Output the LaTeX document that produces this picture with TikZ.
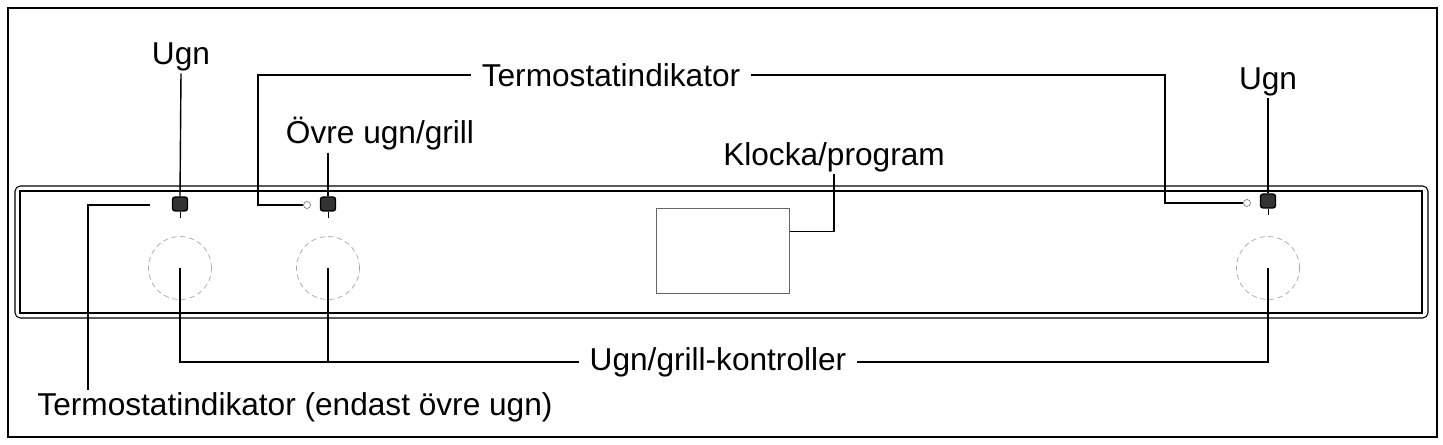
\documentclass[tikz,border=0pt]{standalone}
\usepackage{fontspec}
\setmainfont{Liberation Sans}
\usetikzlibrary{positioning}
\tikzset{
    label/.style={font=\fontsize{18}{20}\selectfont, inner xsep=6pt, inner ysep=1pt},
    knob/.style={circle, draw=black!35, densely dashed, minimum size=1.26cm, inner sep=0pt},
    lamp/.style={rectangle, rounded corners=1.5pt, draw, thick, minimum width=0.3cm, minimum height=0.28cm, inner sep=0pt},
    dot/.style={circle, draw=black!50, minimum size=0.14cm, inner sep=0pt},
    line/.style={thick}
}
\begin{document}
\begin{tikzpicture}[x=0.02cm, y=-0.02cm]
    \useasboundingbox (0,0) rectangle (1443,445);
    \draw[thick] (8,8) rectangle (1437,437);

    % panel
    \draw[semithick, rounded corners=3pt] (15,186) rectangle (1428,318);
    \draw[semithick] (20,191) rectangle (1422,313);

    % knobs
    \node[knob] (knob_a) at (180,268) {};
    \node[knob] (knob_b) at (328,268) {};
    \node[knob] (knob_c) at (1268,268) {};

    % lamps
    \node[lamp, fill=black!80] (lamp_a) at (180,204) {};
    \node[lamp, fill=black!80] (lamp_b) at (328,204) {};
    \node[lamp, fill=black!80] (lamp_c) at (1268,201) {};
    \node[dot] (dot_b) at (307,205) {};
    \node[dot] (dot_c) at (1247,203) {};
    \draw (lamp_a.south) -- ++(0,6);
    \draw (lamp_b.south) -- ++(0,6);
    \draw (lamp_c.south) -- ++(0,6);

    % display
    \node[draw=black!60, minimum width=2.66cm, minimum height=1.7cm] (display) at (723,251) {};

    % labels
    \node[label] (ugn_left) at (181,57) {Ugn};
    \node[label] (upper) at (380,134) {Övre ugn/grill};
    \node[label] (thermo) at (611,75) {Termostatindikator};
    \node[label] (ugn_right) at (1268,82) {Ugn};
    \node[label] (clock) at (834,157) {Klocka/program};
    \node[label] (controls) at (718,362) {Ugn/grill-kontroller};
    \node[label] (thermo_low) at (295,407) {Termostatindikator (endast övre ugn)};

    % connectors
    \coordinate (tl) at (258,75);
    \coordinate (tr) at (1165,75);
    \coordinate (cl) at (180,362);
    \coordinate (cm) at (328,362);
    \coordinate (cr) at (1268,362);
    \coordinate (il) at (88,390);
    \coordinate (ie) at (150,205);
    \draw[line] (ugn_left.south) -- (lamp_a.north);
    \draw[line] (upper.south -| lamp_b) -- (lamp_b.north);
    \draw[line] (thermo.west) -- (tl) |- (dot_b.west);
    \draw[line] (thermo.east) -- (tr) |- (dot_c.west);
    \draw[line] (ugn_right.south) -- (lamp_c.north);
    \draw[line] (clock.south) |- ([yshift=11]display.east);
    \draw[line] (il) |- (ie);
    \draw[line] (knob_a.center) -- (cl) -- (controls.west);
    \draw[line] (knob_b.center) -- (cm);
    \draw[line] (controls.east) -- (cr) -- (knob_c.center);
\end{tikzpicture}
\end{document}
